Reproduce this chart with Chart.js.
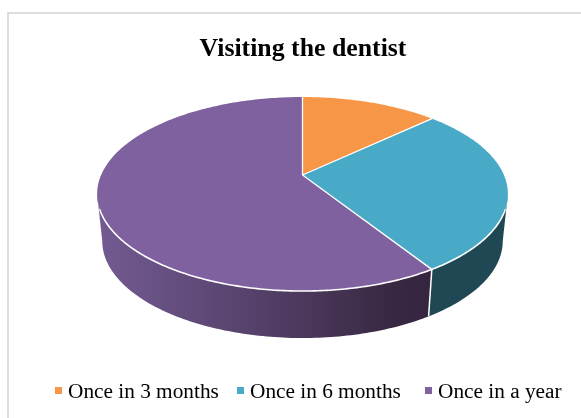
<!DOCTYPE html>
<html>
<head>
<meta charset="utf-8">
<style>
  html, body { margin: 0; padding: 0; background: #fff; }
  #wrap { position: relative; width: 581px; height: 418px; overflow: hidden; }
  #frame { position: absolute; left: 7px; top: 12px; width: 600px; height: 440px; border: 2px solid #dedede; box-sizing: border-box; }
  canvas { position: absolute; left: 0; top: 0; }
  #legend span { position: absolute; top: 378px; font: 21.3px/26px "Liberation Serif"; color: #000; white-space: nowrap; }
  #legend i { position: absolute; top: 387px; width: 7px; height: 7px; }
</style>
<script src="https://cdn.jsdelivr.net/npm/chart.js@4"></script>
</head>
<body>
<div id="wrap">
  <div id="frame"></div>
  <canvas id="chart" width="581" height="418"></canvas>
  <div id="legend"></div>
</div>
<script>
const categories = ["Once in 3 months", "Once in 6 months", "Once in a year"];
const shares = [13, 28, 59];
const topColors = ["#f79646", "#48aac6", "#7e619e"];

// the tilted disc, a circle seen in perspective
const centerX = 302.5;
const centerY = 175;
const radiusX = 201.4;
const radiusY = 93.3;
const tilt = -0.196;
const depth = 47;
const bottomScale = 0.975;
const sideAngle = 0.197; // where the wall leaves the disc outline

function project(angle) {
  // chart.js angles: -PI/2 is 12 o'clock
  const u = Math.cos(angle);
  const v = Math.sin(angle);
  const w = 1 + tilt * v;
  return [centerX + radiusX * u / w, centerY + radiusY * v / w];
}

function projectBottom(angle) {
  const p = project(angle);
  return [centerX + (p[0] - centerX) * bottomScale, p[1] + depth];
}

function drawWall(ctx, from, to, fill) {
  // outer wall between two angles, only the part facing the viewer
  const a = Math.max(from, sideAngle);
  const b = Math.min(to, Math.PI - sideAngle);
  if (b <= a) return;
  const n = Math.ceil((b - a) * 60);
  ctx.beginPath();
  for (let i = 0; i <= n; i++) {
    const p = project(a + (b - a) * i / n);
    if (i === 0) ctx.moveTo(p[0], p[1]); else ctx.lineTo(p[0], p[1]);
  }
  for (let i = n; i >= 0; i--) {
    const p = projectBottom(a + (b - a) * i / n);
    ctx.lineTo(p[0], p[1]);
  }
  ctx.closePath();
  ctx.fillStyle = fill;
  ctx.fill();
}

const discPlugin = {
  id: "disc",
  beforeDatasetsDraw(chart) {
    const ctx = chart.ctx;
    const arcs = chart.getDatasetMeta(0).data;
    ctx.save();

    // side walls
    const purple = ctx.createLinearGradient(97, 0, 430, 0);
    purple.addColorStop(0, "#735a92");
    purple.addColorStop(0.35, "#5d4875");
    purple.addColorStop(0.65, "#493659");
    purple.addColorStop(0.9, "#372741");
    purple.addColorStop(1, "#352540");
    const walls = ["#a5622c", "#1f4854", purple];
    arcs.forEach((arc, i) => drawWall(ctx, arc.startAngle, arc.endAngle, walls[i]));

    // white seam where the walls meet
    const seamTop = project(arcs[1].endAngle);
    const seamBottom = projectBottom(arcs[1].endAngle);
    ctx.strokeStyle = "#fff";
    ctx.lineWidth = 1.5;
    ctx.beginPath();
    ctx.moveTo(seamTop[0], seamTop[1]);
    ctx.lineTo(seamBottom[0], seamBottom[1]);
    ctx.stroke();

    // top of each slice
    arcs.forEach((arc, i) => {
      const n = Math.ceil((arc.endAngle - arc.startAngle) * 60);
      ctx.beginPath();
      ctx.moveTo(centerX, centerY);
      for (let k = 0; k <= n; k++) {
        const p = project(arc.startAngle + (arc.endAngle - arc.startAngle) * k / n);
        ctx.lineTo(p[0], p[1]);
      }
      ctx.closePath();
      ctx.fillStyle = topColors[i];
      ctx.fill();
    });

    // white lines between slices
    ctx.lineWidth = 1.3;
    arcs.forEach(arc => {
      const p = project(arc.startAngle);
      ctx.beginPath();
      ctx.moveTo(centerX, centerY);
      ctx.lineTo(p[0], p[1]);
      ctx.stroke();
    });

    // white rim along the front edge
    ctx.lineWidth = 1.6;
    ctx.beginPath();
    for (let i = 0; i <= 200; i++) {
      const a = 0.35 + (Math.PI - 0.7) * i / 200;
      const p = project(a);
      if (i === 0) ctx.moveTo(p[0], p[1]); else ctx.lineTo(p[0], p[1]);
    }
    ctx.stroke();

    ctx.restore();
    return false;
  }
};

new Chart(document.getElementById("chart"), {
  type: "pie",
  data: {
    labels: categories,
    datasets: [{ data: shares, backgroundColor: topColors, borderWidth: 0 }]
  },
  options: {
    responsive: false,
    animation: false,
    layout: { padding: { top: 34, left: 25 } },
    plugins: {
      title: {
        display: true,
        text: "Visiting the dentist",
        color: "#000",
        font: { family: "'Liberation Serif'", size: 25.8, weight: "bold" },
        padding: { top: 0, bottom: 0 }
      },
      legend: { display: false },
      tooltip: { enabled: false }
    }
  },
  plugins: [discPlugin]
});

const legendLeft = [55, 237, 425];
const legendBox = document.getElementById("legend");
categories.forEach((name, i) => {
  const mark = document.createElement("i");
  mark.style.left = legendLeft[i] + "px";
  mark.style.background = topColors[i];
  const label = document.createElement("span");
  label.style.left = (legendLeft[i] + 13) + "px";
  label.textContent = name;
  legendBox.append(mark, label);
});
</script>
</body>
</html>
